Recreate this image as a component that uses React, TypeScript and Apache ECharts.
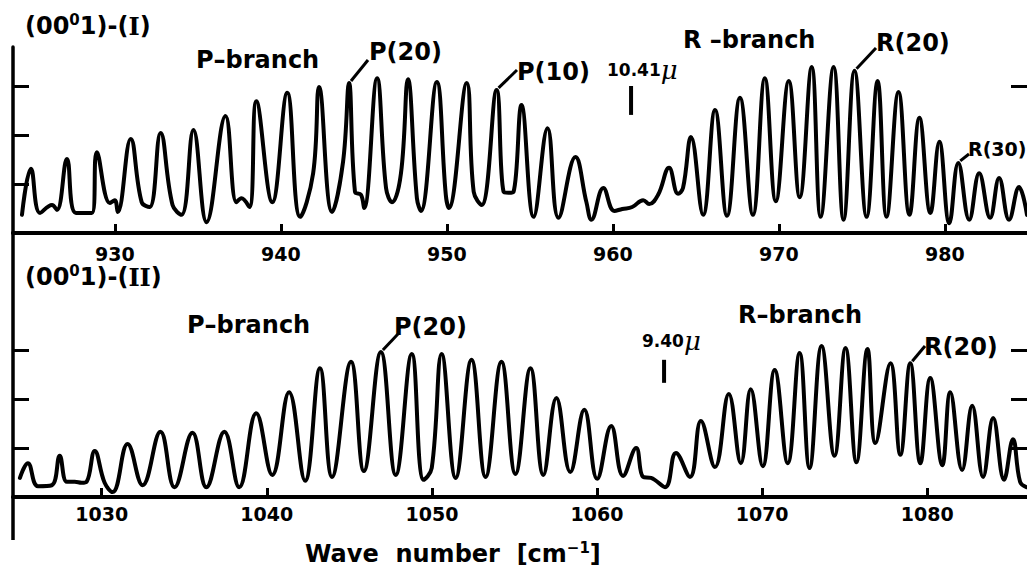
import React, { useEffect, useRef } from "react";
import * as echarts from "echarts";

// (00^0 1)-(I) band : wave number [cm^-1], relative signal
const topSpectrum: [number, number][] = [
  [924.41, 0.37], [924.95, 1.31], [925.5, 0.41], [926.22, 0.57], [926.52, 0.47], [927.12, 1.51],
  [927.66, 0.41], [928.62, 0.41], [928.92, 1.65], [929.7, 0.61], [930.0, 0.67], [930.18, 0.43],
  [930.96, 1.92], [931.62, 0.63], [932.1, 0.53], [932.76, 2.04], [933.48, 0.57], [934.02, 0.37],
  [934.74, 2.1], [935.53, 0.22], [936.67, 2.39], [937.33, 0.63], [937.63, 0.71], [938.11, 0.53],
  [938.53, 2.69], [939.49, 0.63], [940.39, 2.86], [941.17, 0.33], [941.95, 1.22], [942.31, 2.98],
  [943.09, 0.43], [943.75, 1.45], [944.11, 3.06], [944.47, 0.84], [944.83, 0.78], [945.02, 0.51],
  [945.8, 3.16], [946.34, 0.92], [946.7, 0.63], [947.24, 1.22], [947.66, 3.14], [948.2, 0.71],
  [948.44, 0.45], [949.4, 3.08], [949.94, 0.78], [950.12, 0.51], [951.2, 3.06], [951.62, 0.84],
  [952.1, 0.57], [953.0, 2.92], [953.42, 0.84], [953.72, 0.82], [954.02, 0.84], [954.5, 2.61],
  [955.23, 0.33], [956.07, 2.14], [956.73, 0.31], [957.75, 1.55], [958.41, 0.63], [958.71, 0.27],
  [959.43, 0.92], [960.09, 0.45], [960.57, 0.49], [961.17, 0.53], [961.83, 0.67], [962.19, 0.59],
  [962.73, 0.78], [963.39, 1.33], [963.93, 0.8], [964.23, 0.92], [964.71, 1.96], [965.44, 0.37],
  [966.16, 2.51], [966.88, 0.35], [967.66, 2.76], [968.44, 0.37], [969.16, 3.16], [969.82, 0.65],
  [970.6, 3.1], [971.26, 0.73], [971.98, 3.39], [972.52, 0.33], [973.3, 3.39], [973.9, 0.27],
  [974.56, 3.31], [975.29, 0.33], [975.95, 3.1], [976.49, 0.33], [977.21, 2.88], [977.87, 0.37],
  [978.47, 2.35], [979.13, 0.41], [979.67, 1.86], [980.27, 0.2], [980.81, 1.43], [981.47, 0.27],
  [982.07, 1.22], [982.73, 0.31], [983.27, 1.12], [983.87, 0.27], [984.47, 0.94], [984.95, 0.37],
];

// (00^0 1)-(II) band
const bottomSpectrum: [number, number][] = [
  [1025.05, 0.39], [1025.53, 0.69], [1026.14, 0.22], [1026.98, 0.24], [1027.46, 0.84], [1027.89, 0.31],
  [1028.37, 0.31], [1028.79, 0.29], [1029.09, 0.31], [1029.58, 0.94], [1030.18, 0.29], [1030.66, 0.1],
  [1031.57, 1.08], [1032.48, 0.24], [1033.56, 1.33], [1034.41, 0.2], [1035.5, 1.31], [1036.34, 0.2],
  [1037.43, 1.33], [1038.33, 0.2], [1039.36, 1.71], [1040.33, 0.45], [1041.35, 2.14], [1042.32, 0.33],
  [1043.22, 2.63], [1043.95, 0.41], [1045.1, 2.76], [1045.88, 0.53], [1046.91, 2.96], [1047.81, 0.45],
  [1048.78, 2.92], [1049.5, 0.35], [1049.99, 0.59], [1050.59, 2.92], [1051.44, 0.39], [1052.4, 2.8],
  [1053.25, 0.41], [1054.21, 2.76], [1055.06, 0.47], [1055.97, 2.63], [1056.75, 0.45], [1057.54, 2.02],
  [1058.38, 0.51], [1059.23, 1.78], [1060.01, 0.37], [1060.86, 1.45], [1061.58, 0.43], [1062.37, 1.0],
  [1062.79, 0.41], [1063.27, 0.39], [1064.12, 0.2], [1064.78, 0.9], [1065.63, 0.41], [1066.29, 1.55],
  [1067.14, 0.61], [1067.98, 2.1], [1068.71, 0.69], [1069.31, 2.2], [1070.04, 0.63], [1070.76, 2.59],
  [1071.55, 0.69], [1072.27, 2.94], [1072.87, 0.59], [1073.6, 3.08], [1074.38, 0.84], [1075.05, 3.04],
  [1075.71, 0.71], [1076.38, 3.02], [1076.86, 1.1], [1077.77, 2.73], [1078.37, 0.86], [1078.97, 2.73],
  [1079.58, 0.69], [1080.18, 2.43], [1080.91, 0.65], [1081.39, 2.14], [1082.11, 0.55], [1082.72, 1.86],
  [1083.38, 0.41], [1083.99, 1.61], [1084.65, 0.35], [1085.19, 1.18], [1085.62, 0.31], [1086.0, 0.2],
];

const topTicks = [930, 940, 950, 960, 970, 980];
const bottomTicks = [1030, 1040, 1050, 1060, 1070, 1080];
const levelTicks = [1, 2, 3];
const topRightTicks = [3];

// labelled lines: [text, wave number, signal]
const topPeaks: [string, number, number][] = [
  ["P(20)", 944.11, 3.06],
  ["P(10)", 953.0, 2.92],
  ["R(20)", 974.56, 3.31],
  ["R(30)", 980.81, 1.43],
];
const bottomPeaks: [string, number, number][] = [
  ["P(20)", 1046.91, 2.96],
  ["R(20)", 1078.97, 2.73],
];
const topCentre: [string, number] = ["10.41", 961.1];
const bottomCentre: [string, number] = ["9.40", 1064.06];

const FONT = '"DejaVu Sans", "Liberation Sans", sans-serif';

export default function App() {
  const ref = useRef<HTMLDivElement>(null);

  useEffect(() => {
    if (!ref.current) return;
    const chart = echarts.init(ref.current, null, { renderer: "svg" });

    const xAxisBase = (gridIndex: number, min: number, max: number, ticks: number[], margin: number) => ({
      type: "value",
      gridIndex,
      min,
      max,
      axisLine: { show: true, onZero: false, lineStyle: { color: "#000", width: 4 } },
      axisTick: { show: true, inside: true, length: 9, customValues: ticks, lineStyle: { color: "#000", width: 3 } },
      axisLabel: {
        show: true,
        customValues: ticks,
        margin,
        color: "#000",
        fontFamily: FONT,
        fontWeight: "bold",
        fontSize: 19,
        formatter: (v: number) => String(Math.round(v)),
      },
      splitLine: { show: false },
    });
    const yAxisBase = (gridIndex: number, min: number, max: number, position: string, ticks: number[], showLine: boolean) => ({
      type: "value",
      gridIndex,
      min,
      max,
      position,
      axisLine: { show: showLine, onZero: false, lineStyle: { color: "#000", width: 3.5 } },
      axisTick: { show: true, inside: true, length: 16, customValues: ticks, lineStyle: { color: "#000", width: 3 } },
      axisLabel: { show: false },
      splitLine: { show: false },
    });

    const lineSeries = (g: number, data: [number, number][]) => ({
      type: "line",
      xAxisIndex: g,
      yAxisIndex: g * 2,
      data,
      symbol: "none",
      smooth: 0.42,
      lineStyle: { color: "#000", width: 4, join: "round", cap: "round" },
    });

    const option: any = {
      animation: false,
      backgroundColor: "#fff",
      grid: [
        { left: 13, top: 47, right: -3, bottom: 338 },
        { left: 13, top: 233, right: -3, bottom: 74 },
      ],
      xAxis: [
        xAxisBase(0, 923.87, 984.95, topTicks, 11),
        xAxisBase(1, 1024.63, 1086.04, bottomTicks, 7),
      ],
      yAxis: [
        yAxisBase(0, 0, 3.796, "left", levelTicks, true),
        yAxisBase(0, 0, 3.796, "right", topRightTicks, false),
        yAxisBase(1, 0, 5.388, "left", levelTicks, true),
        yAxisBase(1, 0, 5.388, "right", levelTicks, false),
      ],
      series: [lineSeries(0, topSpectrum), lineSeries(1, bottomSpectrum)],
    };
    chart.setOption(option);

    const px = (g: number, x: number, y: number) =>
      chart.convertToPixel({ xAxisIndex: g, yAxisIndex: g * 2 } as any, [x, y]) as number[];

    const text = (x: number, y: number, t: string, size = 24, rich?: any) => ({
      type: "text",
      x,
      y,
      z: 10,
      style: {
        text: t,
        fill: "#000",
        font: `bold ${size}px ${FONT}`,
        align: "left",
        verticalAlign: "middle",
        rich,
      },
    });
    const line = (x1: number, y1: number, x2: number, y2: number, w = 3) => ({
      type: "line",
      z: 10,
      shape: { x1, y1, x2, y2 },
      style: { stroke: "#000", lineWidth: w },
    });

    const bandRich = {
      a: { fontFamily: FONT, fontWeight: "bold", fontSize: 24, lineHeight: 28, color: "#000" },
      s: { fontFamily: FONT, fontWeight: "bold", fontSize: 15, lineHeight: 16, verticalAlign: "top", color: "#000" },
      r: { fontFamily: '"DejaVu Serif", serif', fontWeight: "bold", fontSize: 24, lineHeight: 28, color: "#000" },
    };
    const muRich = {
      n: { fontFamily: FONT, fontWeight: "bold", fontSize: 17, lineHeight: 24, color: "#000" },
      m: { fontFamily: '"DejaVu Serif", serif', fontStyle: "italic", fontSize: 26, lineHeight: 24, color: "#000" },
    };
    const unitRich = {
      a: { fontFamily: FONT, fontWeight: "bold", fontSize: 24, lineHeight: 28, color: "#000" },
      s: { fontFamily: FONT, fontWeight: "bold", fontSize: 15, lineHeight: 16, verticalAlign: "top", color: "#000" },
    };

    // peak label anchors (text left / centre, leader end)
    const topAnchors = [
      { tx: 369, ty: 52, lx: 368, ly: 60, s: 24 },
      { tx: 517, ty: 72, lx: 517, ly: 70, s: 24 },
      { tx: 876, ty: 43, lx: 876, ly: 48, s: 24 },
      { tx: 968, ty: 149, lx: 969, ly: 154, s: 19 },
    ];
    const bottomAnchors = [
      { tx: 394, ty: 327, lx: 398, ly: 334, s: 24 },
      { tx: 924, ty: 347, lx: 925, ly: 346, s: 24 },
    ];

    const graphics: any[] = [];
    graphics.push(text(25, 26, "{a|(00}{s|0}{a|1)-(}{r|I}{a|)}", 24, bandRich));
    graphics.push(text(196, 60, "P–branch"));
    graphics.push(text(683, 40, "R –branch"));
    topPeaks.forEach(([t, x, y], i) => {
      const p = px(0, x, y);
      const a = topAnchors[i];
      graphics.push(line(p[0] + 2, p[1] - 2, a.lx, a.ly));
      graphics.push(text(a.tx, a.ty, t, a.s));
    });
    {
      const b1 = px(0, topCentre[1], 3.0);
      const b2 = px(0, topCentre[1], 2.41);
      graphics.push(line(b1[0], b1[1], b2[0], b2[1], 4));
      graphics.push(text(607, 70, `{n|${topCentre[0]}}{m|μ}`, 17, muRich));
    }

    // left frame line continuing below the lower panel
    {
      const a = px(1, 1024.63, 0);
      graphics.push(line(a[0], a[1], a[0], 540, 3.5));
    }

    graphics.push(text(25, 277, "{a|(00}{s|0}{a|1)-(}{r|II}{a|)}", 24, bandRich));
    graphics.push(text(187, 325, "P–branch"));
    graphics.push(text(738, 315, "R–branch"));
    bottomPeaks.forEach(([t, x, y], i) => {
      const p = px(1, x, y);
      const a = bottomAnchors[i];
      graphics.push(line(p[0] + 2, p[1] - 2, a.lx, a.ly));
      graphics.push(text(a.tx, a.ty, t, a.s));
    });
    {
      const b1 = px(1, bottomCentre[1], 2.8);
      const b2 = px(1, bottomCentre[1], 2.33);
      graphics.push(line(b1[0], b1[1], b2[0], b2[1], 4));
      graphics.push(text(642, 341, `{n|${bottomCentre[0]}}{m|μ}`, 17, muRich));
    }

    graphics.push(text(305, 554, "{a|Wave  number  [cm}{s|−1}{a|]}", 24, unitRich));

    chart.setOption({ graphic: graphics });

    return () => chart.dispose();
  }, []);

  return (
    <div
      ref={ref}
      style={{ position: "fixed", left: 0, top: 0, width: 1027, height: 571, background: "#fff" }}
    />
  );
}
